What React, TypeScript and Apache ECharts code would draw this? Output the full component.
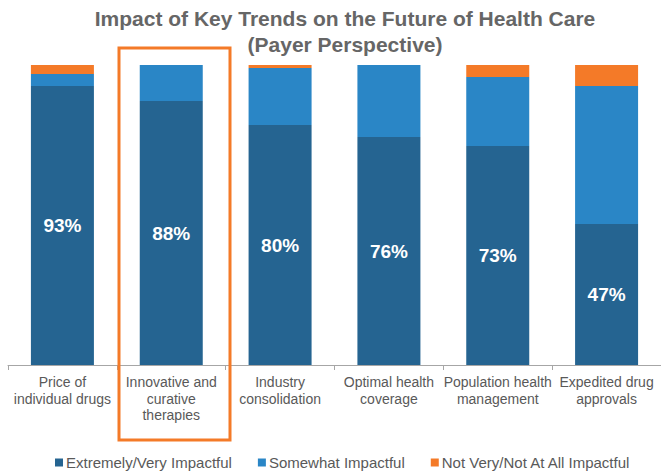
import React, { useEffect, useRef } from "react";
import * as echarts from "echarts";

const categories = [
  "Price of\nindividual drugs",
  "Innovative and\ncurative\ntherapies",
  "Industry\nconsolidation",
  "Optimal health\ncoverage",
  "Population health\nmanagement",
  "Expedited drug\napprovals",
];
const extremely = [93, 88, 80, 76, 73, 47];
const somewhat = [4, 12, 19, 24, 23, 46];
const notVery = [3, 0, 1, 0, 4, 7];

const seriesNames = [
  "Extremely/Very Impactful",
  "Somewhat Impactful",
  "Not Very/Not At All Impactful",
];
const colors = ["#256491", "#2A86C6", "#F47A28"];

export default function App() {
  const ref = useRef<HTMLDivElement>(null);
  useEffect(() => {
    if (!ref.current) return;
    document.body.style.margin = "0";
    const chart = echarts.init(ref.current, undefined, { renderer: "svg" });
    const font = "'Liberation Sans', Arial, sans-serif";
    chart.setOption({
      animation: false,
      textStyle: { fontFamily: font },
      title: {
        text: "Impact of Key Trends on the Future of Health Care\n(Payer Perspective)",
        left: 340,
        textAlign: "center",
        top: 0,
        textStyle: {
          fontFamily: font,
          fontSize: 21,
          fontWeight: "bold",
          color: "#666666",
          lineHeight: 26,
        },
      },
      legend: {
        bottom: 1,
        left: 50,
        orient: "horizontal",
        icon: "rect",
        itemWidth: 8,
        itemHeight: 8,
        itemGap: 26,
        textStyle: { fontFamily: font, fontSize: 15, color: "#595959", padding: [0, 0, 0, -2] },
        data: seriesNames,
      },
      grid: { left: 8, top: 65, width: 660, height: 300, containLabel: false },
      xAxis: {
        type: "category",
        data: categories,
        axisLine: { lineStyle: { color: "#a6a6a6" } },
        axisTick: { show: true, length: 5, lineStyle: { color: "#a6a6a6" } },
        axisLabel: {
          fontFamily: font,
          fontSize: 14,
          color: "#595959",
          lineHeight: 16.5,
          margin: 9,
          interval: 0,
        },
      },
      yAxis: { type: "value", min: 0, max: 100, show: false },
      series: [
        {
          name: seriesNames[0],
          type: "bar",
          stack: "a",
          data: extremely,
          barWidth: 63,
          itemStyle: { color: colors[0] },
          label: {
            show: true,
            position: "inside",
            formatter: "{c}%",
            color: "#ffffff",
            fontWeight: "bold",
            fontSize: 19,
            fontFamily: font,
          },
        },
        {
          name: seriesNames[1],
          type: "bar",
          stack: "a",
          data: somewhat,
          barWidth: 63,
          itemStyle: { color: colors[1] },
        },
        {
          name: seriesNames[2],
          type: "bar",
          stack: "a",
          data: notVery,
          barWidth: 63,
          itemStyle: { color: colors[2] },
        },
      ],
      graphic: [
        {
          type: "rect",
          shape: { x: 119, y: 48, width: 111, height: 392 },
          style: { fill: "none", stroke: "#F47A28", lineWidth: 3 },
          z: 100,
        },
      ],
    });
    return () => chart.dispose();
  }, []);
  return <div ref={ref} style={{ width: 661, height: 476 }} />;
}
